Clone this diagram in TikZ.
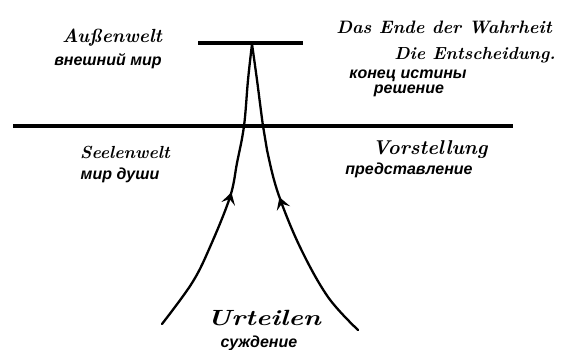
\documentclass[tikz,border=0pt]{standalone}
\usepackage{fontspec}
\newfontfamily\cyr{Liberation Sans}
\usetikzlibrary{decorations.markings,arrows.meta}
\tikzset{
  hand/.style={font=\fontsize{#1}{#1}\selectfont\bfseries\itshape, inner sep=0pt, anchor=center},
  ru/.style={font=\cyr\bfseries\itshape\fontsize{16}{18}\selectfont, inner sep=0pt, anchor=center},
  bar/.style={line width=4pt},
  flow/.style={line width=2.3pt, line cap=round, postaction={decorate},
    decoration={markings, mark=at position 0.5 with {\arrow{Stealth[length=12pt,width=14pt,inset=5pt]}}}},
}
\begin{document}
\begin{tikzpicture}[x=1pt,y=-1pt]
\useasboundingbox (0,0) rectangle (562,350);
% bars
\coordinate (TL) at (198,43);
\coordinate (TR) at (303,43);
\coordinate (ML) at (13,126);
\coordinate (MR) at (513,126);
\draw[bar] (TL) -- (TR);
\draw[bar] (ML) -- (MR);
% curves
\coordinate (apex) at (252,44);
\coordinate (L0) at (162,324);
\coordinate (R0) at (358,330);
\draw[flow] plot[smooth, tension=0.6] coordinates {(L0) (192,283) (210,247) (230,197) (237,163) (244,126) (248,80) (apex)};
\draw[flow] plot[smooth, tension=0.6] coordinates {(R0) (328,297) (300,247) (278,193) (267,150) (263,126) (257,80) (apex)};
% texts
\node[hand=19] (aw) at (112,38) {Außenwelt};
\node[hand=18] (ende) at (444,27) {Das Ende der Wahrheit};
\node[hand=17.5] (ent) at (475,55) {Die Entscheidung.};
\node[hand=17.5] (sw) at (125,152) {Seelenwelt};
\node[hand=20] (vor) at (430,150) {Vorstellung};
\node[hand=22] (urt) at (264,318) {\scalebox{1.25}[1]{Urteilen}};
\node[ru] (awr) at (108,61) {внешний мир};
\node[ru] (kon) at (408,76) {конец истины};
\node[ru] (res) at (409,91) {решение};
\node[ru] (swr) at (120,175) {мир души};
\node[ru] (vorr) at (409,170) {представление};
\node[ru] (urtr) at (259,343) {суждение};
\end{tikzpicture}
\end{document}
